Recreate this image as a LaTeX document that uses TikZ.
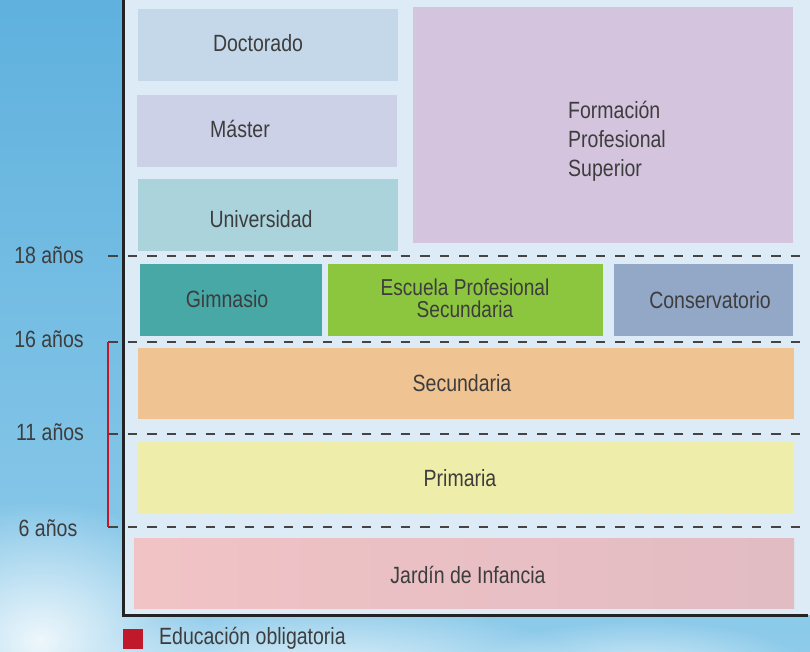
\documentclass[tikz,border=0pt]{standalone}
\usepackage{fontspec}
\setmainfont{Liberation Sans}[FakeStretch=0.83]
\usetikzlibrary{fadings}
\tikzfading[name=cloudfade, inner color=transparent!0, outer color=transparent!100]
\definecolor{skytop}{HTML}{5FB1DE}
\definecolor{skybot}{HTML}{8ECBEA}
\definecolor{panelbg}{HTML}{DCEBF5}
\definecolor{frame}{HTML}{232323}
\definecolor{txtc}{HTML}{3D3D3D}
\definecolor{cDoc}{HTML}{C5D8E9}
\definecolor{cMas}{HTML}{CCD1E7}
\definecolor{cUni}{HTML}{AAD3DC}
\definecolor{cFPS}{HTML}{D4C4DE}
\definecolor{cGim}{HTML}{47A8A6}
\definecolor{cEPS}{HTML}{8CC63F}
\definecolor{cCon}{HTML}{93A8C7}
\definecolor{cSec}{HTML}{EFC492}
\definecolor{cPri}{HTML}{EEEDA9}
\definecolor{cJarL}{HTML}{F1C3C5}
\definecolor{cJarR}{HTML}{E1BCC3}
\definecolor{cRed}{HTML}{C0192C}
\definecolor{dashc}{HTML}{444444}
\begin{document}
\begin{tikzpicture}[x=1pt,y=-1pt,
  box/.style={draw=none,inner sep=0pt,outer sep=0pt},
  txt/.style={text=txtc,inner sep=0pt,font=\fontsize{23.5}{29}\selectfont},
  agelbl/.style={text=txtc,inner sep=0pt,font=\fontsize{23.5}{29}\selectfont},
  dashline/.style={draw=dashc,line width=2.3pt,dash pattern=on 9.5pt off 10pt},
]
\useasboundingbox (0,0) rectangle (810,651);
% sky
\shade[top color=skytop,bottom color=skybot] (0,0) rectangle (810,651);
\fill[white,opacity=0.85,path fading=cloudfade] (40,640) ellipse (170 and 140);
\fill[white,opacity=0.8,path fading=cloudfade] (330,680) ellipse (260 and 80);
\fill[white,opacity=0.6,path fading=cloudfade] (640,670) ellipse (170 and 50);
% panel
\fill[panelbg] (123,0) rectangle (810,615);
% boxes
\node[box,fill=cDoc,minimum width=260,minimum height=72] (doc) at (268,45) {};
\node[box,fill=cMas,minimum width=260,minimum height=72] (mas) at (267,131) {};
\node[box,fill=cUni,minimum width=260,minimum height=72] (uni) at (268,215) {};
\node[box,fill=cFPS,minimum width=380,minimum height=236] (fps) at (603,125) {};
\node[box,fill=cGim,minimum width=182,minimum height=72] (gim) at (231,300) {};
\node[box,fill=cEPS,minimum width=275,minimum height=72] (eps) at (465.5,300) {};
\node[box,fill=cCon,minimum width=179,minimum height=72] (con) at (703.5,300) {};
\node[box,fill=cSec,minimum width=656,minimum height=71] (sec) at (466,383.5) {};
\node[box,fill=cPri,minimum width=656,minimum height=71] (pri) at (466,477.5) {};
\shade[left color=cJarL,right color=cJarR] (134,538) rectangle (794,608);
\node[box,minimum width=660,minimum height=70] (jar) at (464,573) {};
% texts
\node[txt] (docT) at (258,43) {Doctorado};
\node[txt] (masT) at (240,129) {Máster};
\node[txt] (uniT) at (261,219) {Universidad};
\node[txt,align=left,anchor=west] (fpsT) at (568,141) {Formación\\Profesional\\Superior};
\node[txt] (gimT) at (227,299) {Gimnasio};
\node[txt,align=center,font=\fontsize{23}{22.5}\selectfont] (epsT) at (465,298.5) {Escuela Profesional\\Secundaria};
\node[txt] (conT) at (710,300) {Conservatorio};
\node[txt] (secT) at (462,383) {Secundaria};
\node[txt] (priT) at (460,478) {Primaria};
\node[txt] (jarT) at (468,575) {Jardín de Infancia};
% frame
\draw[frame,line width=3pt] (123,-2) -- (123,615) -- (808,615);
% age lines
\coordinate (a18) at (108,256);
\coordinate (a16) at (108,342);
\coordinate (a11) at (108,434);
\coordinate (a6) at (108,527);
\coordinate (e18) at (812,256);
\coordinate (e16) at (812,342);
\coordinate (e11) at (812,434);
\coordinate (e6) at (812,527);
\draw[dashline] (a18) -- (e18);
\draw[dashline] (a16) -- (e16);
\draw[dashline] (a11) -- (e11);
\draw[dashline] (a6) -- (e6);
\draw[cRed,line width=2pt] (a16) -- (a6);
% age labels
\node[agelbl] (l18) at (49,255) {18 años};
\node[agelbl] (l16) at (49,339) {16 años};
\node[agelbl] (l11) at (50,432) {11 años};
\node[agelbl] (l6) at (48,528) {6 años};
% legend
\node[box,fill=cRed,minimum width=20,minimum height=20] (legsq) at (133,639) {};
\node[txt,anchor=west] (legT) at (159,638) {Educación obligatoria};
\end{tikzpicture}
\end{document}
